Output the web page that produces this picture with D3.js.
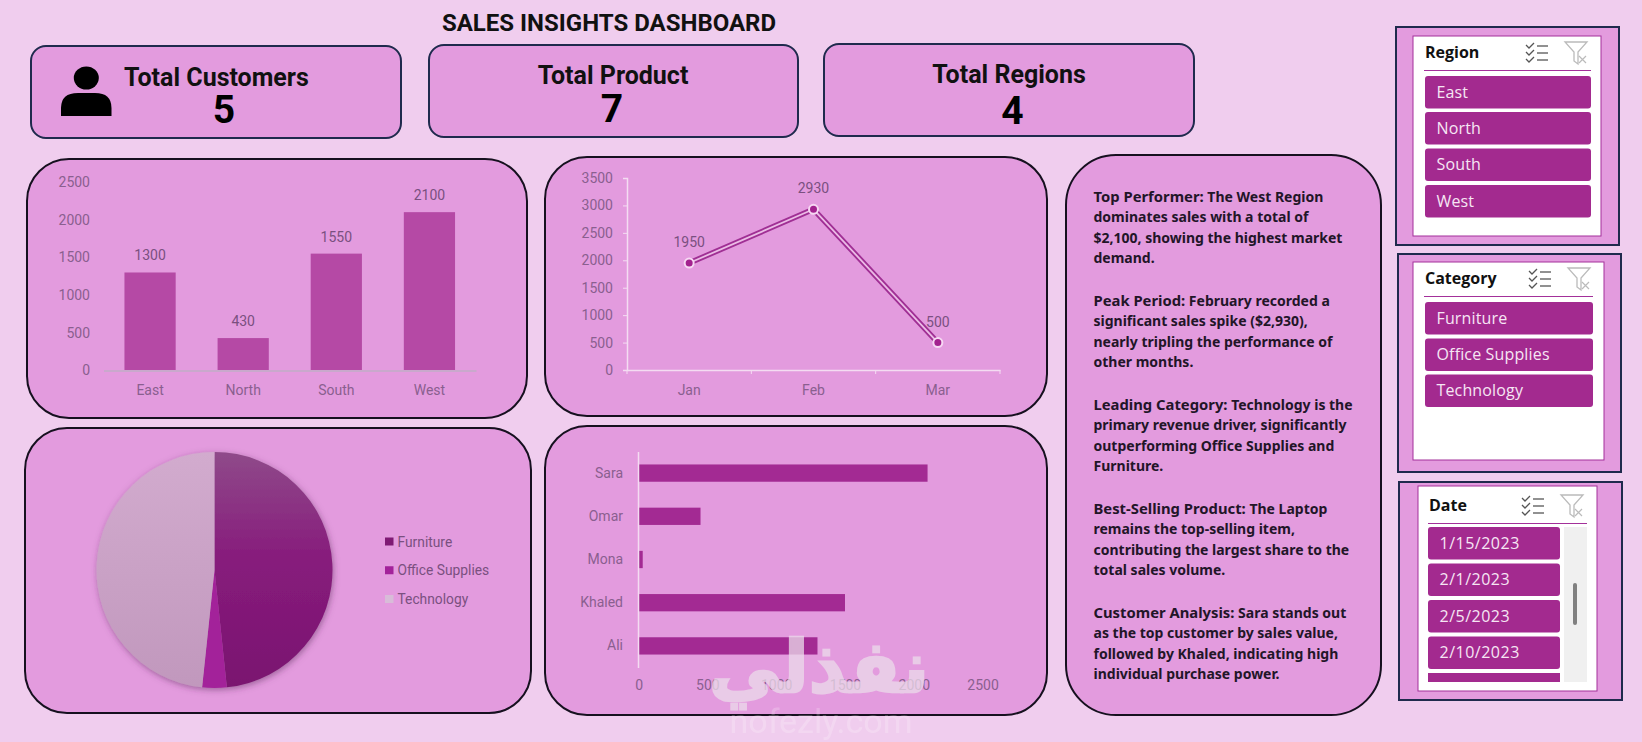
<!DOCTYPE html>
<html>
<head>
<meta charset="utf-8">
<script src="https://cdn.jsdelivr.net/npm/d3@7"></script>
<style>
  html, body { margin: 0; padding: 0; background: #f0cdee; overflow: hidden; }
  text { font-family: "Roboto", "Noto Sans", sans-serif; }
</style>
</head>
<body>
<svg id="dash" width="1642" height="742"></svg>
<script>
const regions = ['East', 'North', 'South', 'West']
const regionSales = [1300, 430, 1550, 2100]
const regionTicks = [0, 500, 1000, 1500, 2000, 2500]

const months = ['Jan', 'Feb', 'Mar']
const monthSales = [1950, 2930, 500]
const monthTicks = [0, 500, 1000, 1500, 2000, 2500, 3000, 3500]

const customers = ['Sara', 'Omar', 'Mona', 'Khaled', 'Ali']
const customerSales = [2100, 450, 30, 1500, 1300]
const customerTicks = [0, 500, 1000, 1500, 2000, 2500]

const categories = ['Furniture', 'Office Supplies', 'Technology']
const categorySales = [2600, 180, 2600]

const dates = ['1/15/2023', '2/1/2023', '2/5/2023', '2/10/2023']

const insights = [
  ['Top Performer:', ' The West Region', 'dominates sales with a total of', '$2,100, showing the highest market', 'demand.'],
  ['Peak Period:', ' February recorded a', 'significant sales spike ($2,930),', 'nearly tripling the performance of', 'other months.'],
  ['Leading Category:', ' Technology is the', 'primary revenue driver, significantly', 'outperforming Office Supplies and', 'Furniture.'],
  ['Best-Selling Product:', ' The Laptop', 'remains the top-selling item,', 'contributing the largest share to the', 'total sales volume.'],
  ['Customer Analysis:', ' Sara stands out', 'as the top customer by sales value,', 'followed by Khaled, indicating high', 'individual purchase power.']
]

const panelFill = '#e39bde'
const axisText = '#8a5f8f'
const svg = d3.select('#dash')
const defs = svg.append('defs')

const furnGrad = defs.append('linearGradient').attr('id', 'furnGrad').attr('x1', 0).attr('y1', 0).attr('x2', 0).attr('y2', 1)
furnGrad.append('stop').attr('offset', '0%').attr('stop-color', '#8f4a8a')
furnGrad.append('stop').attr('offset', '45%').attr('stop-color', '#871c7c')
furnGrad.append('stop').attr('offset', '100%').attr('stop-color', '#7a1470')
const techGrad = defs.append('linearGradient').attr('id', 'techGrad').attr('x1', 0).attr('y1', 0).attr('x2', 0).attr('y2', 1)
techGrad.append('stop').attr('offset', '0%').attr('stop-color', '#d2abce')
techGrad.append('stop').attr('offset', '100%').attr('stop-color', '#c198bd')
const shadow = defs.append('filter').attr('id', 'pieShadow').attr('x', '-10%').attr('y', '-10%').attr('width', '120%').attr('height', '120%')
shadow.append('feDropShadow').attr('dx', 1).attr('dy', 2).attr('stdDeviation', 3).attr('flood-color', '#5a2a5a').attr('flood-opacity', 0.5)

function panel(x0, y0, x1, y1, r, stroke, w) {
  svg.append('rect')
    .attr('x', x0).attr('y', y0)
    .attr('width', x1 - x0).attr('height', y1 - y0)
    .attr('rx', r).attr('ry', r)
    .attr('fill', panelFill)
    .attr('stroke', stroke)
    .attr('stroke-width', w)
}

// kpi cards
panel(31, 46, 401, 138, 15, '#1f2a4d', 2)
panel(429, 45, 798, 137, 15, '#1f2a4d', 2)
panel(824, 44, 1194, 136, 15, '#1f2a4d', 2)

// chart panels
panel(27, 159, 527, 418, 42, '#16101f', 2)
panel(545, 157, 1047, 416, 42, '#16101f', 2)
panel(25, 428, 531, 713, 42, '#16101f', 2)
panel(545, 426, 1047, 715, 42, '#16101f', 2)
panel(1066, 155, 1381, 715, 50, '#16101f', 2)

function label(x, y, str, size, weight, color, anchor) {
  return svg.append('text')
    .attr('x', x).attr('y', y)
    .attr('font-size', size)
    .attr('font-weight', weight)
    .attr('fill', color)
    .attr('text-anchor', anchor || 'middle')
    .attr('dominant-baseline', 'central')
    .text(str)
}

label(609, 23, 'SALES INSIGHTS DASHBOARD', 24, 700, '#111')
label(216.5, 77, 'Total Customers', 25, 700, '#111')
label(224, 110, '5', 39, 700, '#000')
label(613, 75, 'Total Product', 25, 700, '#111')
label(612, 109, '7', 39, 700, '#000')
label(1009, 74, 'Total Regions', 25, 700, '#111')
label(1012.5, 111, '4', 39, 700, '#000')

// person icon
svg.append('ellipse').attr('cx', 86.3).attr('cy', 78).attr('rx', 12.5).attr('ry', 11.5).attr('fill', '#000')
svg.append('path')
  .attr('d', 'M61 116 L61 108 Q61 93 78 93 L95 93 Q111.5 93 111.5 108 L111.5 116 Z')
  .attr('fill', '#000')

function styleAxis(g, lineColor, lineWidth) {
  g.selectAll('text').attr('fill', axisText).attr('font-size', 14)
  g.selectAll('path').attr('stroke', lineColor).attr('stroke-width', lineWidth)
  g.selectAll('line').attr('stroke', lineColor)
}

// region bars
const barX = d3.scaleBand().domain(regions).range([103.5, 476]).paddingInner(0.45).paddingOuter(0.225)
const barY = d3.scaleLinear().domain([0, 2500]).range([370.5, 182])

svg.append('g').selectAll('rect')
  .data(regions)
  .join('rect')
  .attr('x', d => barX(d))
  .attr('y', (d, i) => barY(regionSales[i]))
  .attr('width', barX.bandwidth())
  .attr('height', (d, i) => barY(0) - barY(regionSales[i]))
  .attr('fill', '#b549a5')

svg.append('g').selectAll('text')
  .data(regions)
  .join('text')
  .attr('x', d => barX(d) + barX.bandwidth() / 2)
  .attr('y', (d, i) => barY(regionSales[i]) - 17)
  .attr('text-anchor', 'middle')
  .attr('dominant-baseline', 'central')
  .attr('font-size', 14)
  .attr('fill', '#7a5080')
  .text((d, i) => regionSales[i])

const barBottom = svg.append('g').attr('transform', 'translate(0,370.5)')
  .call(d3.axisBottom(barX).tickSize(0).tickPadding(15))
styleAxis(barBottom, '#c9a8cc', 2)
const barLeft = svg.append('g').attr('transform', 'translate(96,0)')
  .call(d3.axisLeft(barY).tickValues(regionTicks).tickFormat(d3.format('d')).tickSize(0).tickPadding(6))
styleAxis(barLeft, 'none', 0)

// monthly line
const lineX = d3.scaleBand().domain(months).range([627, 1000])
const lineY = d3.scaleLinear().domain([0, 3500]).range([370, 178])
const lineGen = d3.line()
  .x((d, i) => lineX(months[i]) + lineX.bandwidth() / 2)
  .y(d => lineY(d))

const lineBottom = svg.append('g').attr('transform', 'translate(0,370)')
  .call(d3.axisBottom(lineX).tickSize(0).tickPadding(15))
styleAxis(lineBottom, '#f4dcf2', 1.5)
lineBottom.selectAll('.tick').select('line').remove()
svg.append('g').selectAll('line')
  .data(d3.range(months.length + 1))
  .join('line')
  .attr('x1', i => 627 + i * lineX.step())
  .attr('x2', i => 627 + i * lineX.step())
  .attr('y1', 370).attr('y2', 374)
  .attr('stroke', '#f4dcf2')
const lineLeft = svg.append('g').attr('transform', 'translate(627,0)')
  .call(d3.axisLeft(lineY).tickValues(monthTicks).tickFormat(d3.format('d')).tickSize(4).tickPadding(10))
styleAxis(lineLeft, '#f4dcf2', 1.5)

svg.append('path').datum(monthSales)
  .attr('d', lineGen).attr('fill', 'none')
  .attr('stroke', '#a02f94').attr('stroke-width', 5.5).attr('stroke-linejoin', 'round')
svg.append('path').datum(monthSales)
  .attr('d', lineGen).attr('fill', 'none')
  .attr('stroke', '#ebbbe6').attr('stroke-width', 1.8).attr('stroke-linejoin', 'round')
svg.append('g').selectAll('circle')
  .data(monthSales)
  .join('circle')
  .attr('cx', (d, i) => lineX(months[i]) + lineX.bandwidth() / 2)
  .attr('cy', d => lineY(d))
  .attr('r', 4.5)
  .attr('fill', '#a3228f')
  .attr('stroke', '#f6d8f3')
  .attr('stroke-width', 2)
const lineLabelOffset = [-21, -21, -21]
svg.append('g').selectAll('text')
  .data(monthSales)
  .join('text')
  .attr('x', (d, i) => lineX(months[i]) + lineX.bandwidth() / 2)
  .attr('y', (d, i) => lineY(d) + lineLabelOffset[i])
  .attr('text-anchor', 'middle')
  .attr('dominant-baseline', 'central')
  .attr('font-size', 14)
  .attr('fill', '#7a5080')
  .text(d => d)

// customer bars
const custX = d3.scaleLinear().domain([0, 2500]).range([638.6, 982.6])
const custY = d3.scaleBand().domain(customers).range([451.5, 667.5]).padding(0.6).paddingOuter(0.3)
svg.append('g').selectAll('rect')
  .data(customers)
  .join('rect')
  .attr('x', custX(0))
  .attr('y', d => custY(d))
  .attr('width', (d, i) => custX(customerSales[i]) - custX(0))
  .attr('height', custY.bandwidth())
  .attr('fill', '#a32a93')
const custLeft = svg.append('g').attr('transform', 'translate(638,0)')
  .call(d3.axisLeft(custY).tickSize(0).tickPadding(15))
styleAxis(custLeft, '#f4dcf2', 1.5)
const custBottom = svg.append('g').attr('transform', 'translate(0,667.5)')
  .call(d3.axisBottom(custX).tickValues(customerTicks).tickFormat(d3.format('d')).tickSize(0).tickPadding(13))
styleAxis(custBottom, 'none', 0)

// pie
const pieGen = d3.pie().sort(null)
const arcGen = d3.arc().innerRadius(0).outerRadius(118)
const pieFills = ['url(#furnGrad)', '#a3229a', 'url(#techGrad)']
const pieG = svg.append('g').attr('transform', 'translate(214.5,570)').attr('filter', 'url(#pieShadow)')
pieG.selectAll('path')
  .data(pieGen(categorySales))
  .join('path')
  .attr('d', arcGen)
  .attr('fill', (d, i) => pieFills[i])

const legendFills = ['#7f1a74', '#a3229a', '#d8bcd8']
const legendY = d3.scalePoint().domain(categories).range([541.5, 599])
svg.append('g').selectAll('rect')
  .data(categories)
  .join('rect')
  .attr('x', 385).attr('y', d => legendY(d) - 4)
  .attr('width', 8.5).attr('height', 8)
  .attr('fill', (d, i) => legendFills[i])
svg.append('g').selectAll('text')
  .data(categories)
  .join('text')
  .attr('x', 397.5).attr('y', d => legendY(d))
  .attr('dominant-baseline', 'central')
  .attr('font-size', 13.8)
  .attr('fill', '#7a5080')
  .text(d => d)

// insights text
const bodyFont = '"Noto Sans", sans-serif'
insights.forEach((para, p) => {
  const top = 195.5 + p * 104
  const first = svg.append('text')
    .attr('x', 1093.5).attr('y', top)
    .attr('dominant-baseline', 'central')
    .attr('fill', '#221528')
    .style('font-family', bodyFont)
  first.append('tspan').attr('font-size', 14.8).attr('font-weight', 700).text(para[0])
  first.append('tspan').attr('font-size', 14).attr('font-weight', 700).text(para[1])
  para.slice(2).forEach((line, i) => {
    label(1093.5, top + (i + 1) * 20.8, line, 14, 700, '#221528', 'start').style('font-family', bodyFont)
  })
})

// slicers
function slicer(outer, inner, title, titleX, sepY, sepX1, items, itemX0, itemX1, itemTops, spacing) {
  svg.append('rect')
    .attr('x', outer[0]).attr('y', outer[1])
    .attr('width', outer[2] - outer[0]).attr('height', outer[3] - outer[1])
    .attr('fill', panelFill).attr('stroke', '#1f2a4d').attr('stroke-width', 2)
  svg.append('rect')
    .attr('x', inner[0]).attr('y', inner[1])
    .attr('width', inner[2] - inner[0]).attr('height', inner[3] - inner[1])
    .attr('fill', '#fff').attr('stroke', '#a3309a').attr('stroke-width', 1)
  svg.append('text')
    .attr('x', titleX).attr('y', sepY - 12)
    .attr('font-size', 16).attr('font-weight', 700).attr('fill', '#111')
    .style('font-family', '"Open Sans", sans-serif')
    .text(title)
  svg.append('line')
    .attr('x1', titleX - 1).attr('x2', sepX1)
    .attr('y1', sepY + 0.5).attr('y2', sepY + 0.5)
    .attr('stroke', '#a3309a')

  // select-all and clear-filter icons
  const ix = inner[2] - 75
  const iy = sepY - 26
  const checks = svg.append('g').attr('fill', 'none').attr('stroke', '#555').attr('stroke-width', 1.3)
  ;[0, 7, 14].forEach(dy => {
    checks.append('path').attr('d', `M${ix} ${iy + dy + 1} l3 3 l5 -5`)
    checks.append('line').attr('x1', ix + 11).attr('x2', ix + 22).attr('y1', iy + dy + 2).attr('y2', iy + dy + 2)
  })
  const fx = inner[2] - 36
  svg.append('path')
    .attr('d', `M${fx} ${iy - 2} h22 l-9 10 v12 l-4 -3 v-9 Z`)
    .attr('fill', '#fff').attr('stroke', '#bbb').attr('stroke-width', 1.3)
  svg.append('path')
    .attr('d', `M${fx + 14} ${iy + 12} l7 7 M${fx + 21} ${iy + 12} l-7 7`)
    .attr('stroke', '#bbb').attr('stroke-width', 1.2)

  items.forEach((it, i) => {
    svg.append('rect')
      .attr('x', itemX0).attr('y', itemTops[i])
      .attr('width', itemX1 - itemX0).attr('height', 32.5)
      .attr('rx', 3).attr('ry', 3)
      .attr('fill', '#a32a8f')
    svg.append('text')
      .attr('x', itemX0 + 11.5).attr('y', itemTops[i] + 15.5)
      .attr('dominant-baseline', 'central')
      .attr('font-size', 16).attr('fill', '#f6e6f4')
      .attr('letter-spacing', spacing)
      .style('font-family', '"Open Sans", sans-serif')
      .text(it)
  })
}

slicer([1396, 27, 1619, 245], [1413, 36, 1601, 236], 'Region', 1425, 70, 1591,
  regions, 1425, 1591, [76, 112, 148.5, 185], 0.15)
slicer([1398, 254, 1621, 472], [1413, 262, 1604, 460], 'Category', 1425, 296, 1593,
  categories, 1425, 1593, [302, 338.5, 374.5], 0.15)
slicer([1399, 482, 1622, 700], [1418, 486, 1597, 691], 'Date', 1429, 523, 1587,
  dates, 1428, 1560, [527, 563.5, 600, 636.5], 0.5)

// cut off item at the bottom of the date list
svg.append('rect').attr('x', 1428).attr('y', 673).attr('width', 132).attr('height', 9).attr('fill', '#a32a8f')
svg.append('rect').attr('x', 1564).attr('y', 527).attr('width', 23).attr('height', 155).attr('fill', '#f0f0f0')
svg.append('rect').attr('x', 1573).attr('y', 583).attr('width', 4).attr('height', 42).attr('rx', 2).attr('fill', '#808080')

// watermark
svg.append('text')
  .attr('x', 819).attr('y', 692)
  .attr('text-anchor', 'middle')
  .attr('direction', 'rtl')
  .attr('font-size', 72).attr('font-weight', 700)
  .attr('fill', '#ecdcea').attr('stroke', '#ecdcea').attr('stroke-width', 2.5)
  .attr('opacity', 0.75)
  .style('font-family', '"DejaVu Sans", sans-serif')
  .text('نفذلي')
svg.append('text')
  .attr('x', 821).attr('y', 733)
  .attr('text-anchor', 'middle')
  .attr('font-size', 34)
  .attr('fill', '#fff').attr('opacity', 0.2)
  .text('nofezly.com')
</script>
</body>
</html>
